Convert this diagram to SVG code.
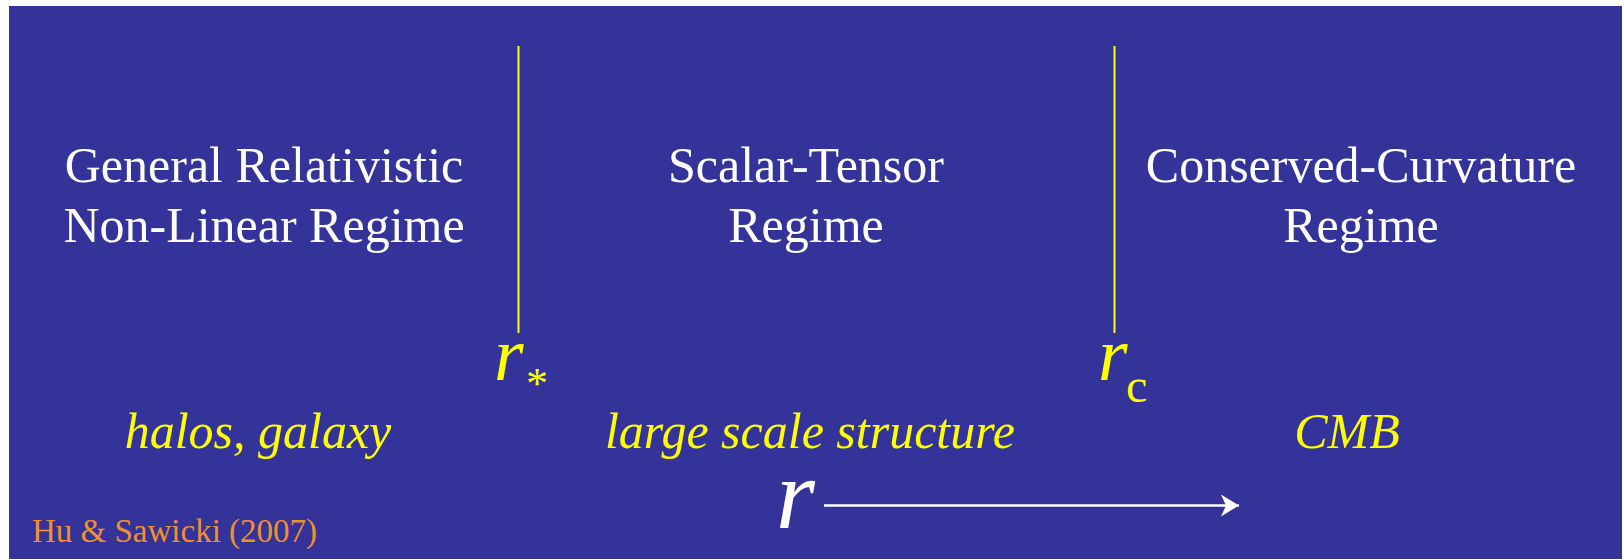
<svg xmlns="http://www.w3.org/2000/svg" width="1624" height="559" viewBox="0 0 1624 559">
<defs>
<style>
.hd{font-family:"Liberation Serif","Times New Roman",serif;font-size:50px;fill:#ffffff;text-anchor:middle}
.it{font-family:"Liberation Serif","Times New Roman",serif;font-size:50px;font-style:italic;fill:#ffff00;text-anchor:middle}
.rv{font-family:"Liberation Serif","Times New Roman",serif;font-style:italic;fill:#ffff00}
.div{stroke:#ffff00;stroke-width:2}
</style>
<marker id="ah" markerWidth="19" markerHeight="22" refX="18" refY="11" orient="auto" markerUnits="userSpaceOnUse" viewBox="0 0 19 22">
<path d="M0,0 L18,11 L0,22 L5,11 Z" fill="#ffffff"/>
</marker>
</defs>
<rect x="0" y="0" width="1624" height="559" fill="#ffffff"/>
<rect x="9" y="6" width="1613" height="553" fill="#333399"/>
<g id="regime-gr">
<text class="hd" x="264" y="182">General Relativistic</text>
<text class="hd" x="264" y="242">Non-Linear Regime</text>
</g>
<g id="regime-st">
<text class="hd" x="806" y="182">Scalar-Tensor</text>
<text class="hd" x="806" y="242">Regime</text>
</g>
<g id="regime-cc">
<text class="hd" x="1361" y="182">Conserved-Curvature</text>
<text class="hd" x="1361" y="242">Regime</text>
</g>
<g id="divider-rstar">
<line class="div" x1="518.5" y1="46" x2="518.5" y2="333"/>
<text class="rv" x="494" y="380" font-size="76">r</text>
<text x="526" y="398" font-family="Liberation Serif, serif" font-size="44" fill="#ffff00">*</text>
</g>
<g id="divider-rc">
<line class="div" x1="1114.5" y1="46" x2="1114.5" y2="333"/>
<text class="rv" x="1098" y="380" font-size="76">r</text>
<text x="1126" y="402" font-family="Liberation Serif, serif" font-size="48" fill="#ffff00">c</text>
</g>
<g id="labels">
<text class="it" x="258" y="448">halos, galaxy</text>
<text class="it" x="810" y="448">large scale structure</text>
<text class="it" x="1347" y="448">CMB</text>
</g>
<g id="connectors">
<line x1="824" y1="505.5" x2="1239" y2="505.5" stroke="#ffffff" stroke-width="2.5" marker-end="url(#ah)"/>
</g>
<g id="axis-label">
<text x="776" y="528" font-family="Liberation Serif, serif" font-style="italic" font-size="100" fill="#ffffff">r</text>
</g>
<g id="citation">
<text x="32" y="542" font-family="Liberation Serif, serif" font-size="33" fill="#f0902c">Hu &amp; Sawicki (2007)</text>
</g>
</svg>
